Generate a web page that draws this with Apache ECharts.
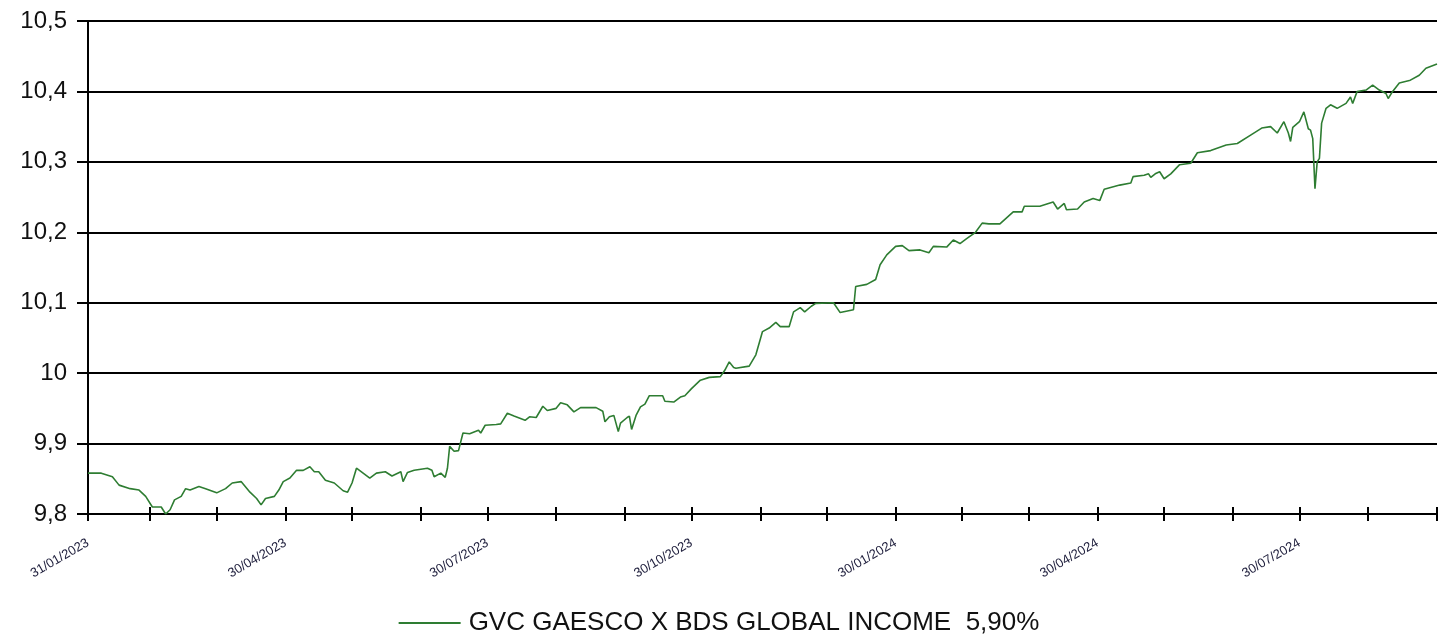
<!DOCTYPE html>
<html>
<head>
<meta charset="utf-8">
<title>GVC GAESCO X BDS GLOBAL INCOME</title>
<script src="https://cdn.jsdelivr.net/npm/echarts@6/dist/echarts.min.js"></script>
<style>
    html, body { margin: 0; padding: 0; background: #fff; }
    #main { width: 1438px; height: 638px; }
</style>
</head>
<body>
<div id="main"></div>
<script>
    "use strict";

    var seriesName = 'GVC GAESCO X BDS GLOBAL INCOME  5,90%';

    // month ends used for the x ticks (every third one gets a label)
    var monthTicks = ['2023-01-31', '2023-02-28', '2023-03-30', '2023-04-30', '2023-05-30',
        '2023-06-30', '2023-07-30', '2023-08-30', '2023-09-30', '2023-10-30', '2023-11-30',
        '2023-12-30', '2024-01-30', '2024-02-29', '2024-03-30', '2024-04-30', '2024-05-30',
        '2024-06-30', '2024-07-30', '2024-08-30', '2024-09-30'];
    var labelTicks = ['2023-01-31', '2023-04-30', '2023-07-30', '2023-10-30',
        '2024-01-30', '2024-04-30', '2024-07-30'];

    var dates = [
        '2023-01-31', '2023-02-06', '2023-02-11', '2023-02-14', '2023-02-19', '2023-02-23', '2023-02-26',
        '2023-03-01', '2023-03-05', '2023-03-07', '2023-03-09', '2023-03-11', '2023-03-14', '2023-03-16',
        '2023-03-18', '2023-03-22', '2023-03-25', '2023-03-30', '2023-04-03', '2023-04-06', '2023-04-10',
        '2023-04-14', '2023-04-17', '2023-04-19', '2023-04-21', '2023-04-25', '2023-04-27', '2023-04-29',
        '2023-05-02', '2023-05-05', '2023-05-08', '2023-05-11', '2023-05-13', '2023-05-15', '2023-05-18',
        '2023-05-22', '2023-05-26', '2023-05-28', '2023-05-30', '2023-06-01', '2023-06-04', '2023-06-07',
        '2023-06-10', '2023-06-14', '2023-06-17', '2023-06-21', '2023-06-22', '2023-06-24', '2023-06-27',
        '2023-07-03', '2023-07-05', '2023-07-06', '2023-07-09', '2023-07-11', '2023-07-12', '2023-07-13',
        '2023-07-15', '2023-07-17', '2023-07-19', '2023-07-22', '2023-07-26', '2023-07-27', '2023-07-29',
        '2023-08-03', '2023-08-05', '2023-08-08', '2023-08-11', '2023-08-16', '2023-08-18', '2023-08-21',
        '2023-08-24', '2023-08-26', '2023-08-30', '2023-09-01', '2023-09-04', '2023-09-07', '2023-09-10',
        '2023-09-13', '2023-09-17', '2023-09-20', '2023-09-21', '2023-09-23', '2023-09-25', '2023-09-27',
        '2023-09-28', '2023-10-01', '2023-10-02', '2023-10-03', '2023-10-05', '2023-10-07', '2023-10-09',
        '2023-10-11', '2023-10-14', '2023-10-17', '2023-10-18', '2023-10-22', '2023-10-25', '2023-10-27',
        '2023-10-30', '2023-11-03', '2023-11-07', '2023-11-12', '2023-11-14', '2023-11-16', '2023-11-18',
        '2023-11-19', '2023-11-25', '2023-11-28', '2023-12-01', '2023-12-04', '2023-12-07', '2023-12-09',
        '2023-12-13', '2023-12-15', '2023-12-18', '2023-12-20', '2023-12-23', '2023-12-25', '2024-01-02',
        '2024-01-05', '2024-01-11', '2024-01-12', '2024-01-17', '2024-01-21', '2024-01-23', '2024-01-26',
        '2024-01-30', '2024-02-02', '2024-02-05', '2024-02-10', '2024-02-14', '2024-02-16', '2024-02-22',
        '2024-02-25', '2024-02-28', '2024-03-02', '2024-03-06', '2024-03-09', '2024-03-12', '2024-03-17',
        '2024-03-23', '2024-03-27', '2024-03-28', '2024-04-04', '2024-04-10', '2024-04-12', '2024-04-15',
        '2024-04-16', '2024-04-21', '2024-04-24', '2024-04-28', '2024-05-01', '2024-05-03', '2024-05-10',
        '2024-05-15', '2024-05-16', '2024-05-21', '2024-05-23', '2024-05-24', '2024-05-26', '2024-05-28',
        '2024-05-30', '2024-06-02', '2024-06-06', '2024-06-11', '2024-06-14', '2024-06-20', '2024-06-27',
        '2024-07-02', '2024-07-08', '2024-07-13', '2024-07-17', '2024-07-20', '2024-07-23', '2024-07-25',
        '2024-07-26', '2024-07-27', '2024-07-30', '2024-08-01', '2024-08-03', '2024-08-04', '2024-08-05',
        '2024-08-06', '2024-08-07', '2024-08-08', '2024-08-09', '2024-08-11', '2024-08-13', '2024-08-16',
        '2024-08-20', '2024-08-22', '2024-08-23', '2024-08-25', '2024-08-29', '2024-09-01', '2024-09-04',
        '2024-09-07', '2024-09-08', '2024-09-10', '2024-09-13', '2024-09-18', '2024-09-22', '2024-09-25',
        '2024-09-30'
    ];

    var values = [
        9.858, 9.858, 9.853, 9.841, 9.836, 9.834, 9.825,
        9.810, 9.810, 9.800, 9.806, 9.820, 9.825, 9.836,
        9.834, 9.839, 9.836, 9.830, 9.836, 9.844, 9.846,
        9.831, 9.822, 9.813, 9.822, 9.825, 9.834, 9.846,
        9.851, 9.862, 9.862, 9.867, 9.860, 9.860, 9.848,
        9.844, 9.833, 9.831, 9.844, 9.865, 9.858, 9.851,
        9.858, 9.860, 9.854, 9.860, 9.846, 9.859, 9.862,
        9.865, 9.862, 9.853, 9.858, 9.852, 9.865, 9.896,
        9.889, 9.890, 9.915, 9.914, 9.919, 9.915, 9.926,
        9.927, 9.928, 9.943, 9.939, 9.933, 9.938, 9.937,
        9.953, 9.947, 9.950, 9.958, 9.955, 9.945, 9.951,
        9.951, 9.951, 9.946, 9.931, 9.938, 9.940, 9.917,
        9.929, 9.937, 9.939, 9.920, 9.940, 9.952, 9.956,
        9.968, 9.968, 9.968, 9.960, 9.959, 9.966, 9.968,
        9.978, 9.990, 9.994, 9.995, 10.004, 10.016, 10.008,
        10.007, 10.010, 10.026, 10.059, 10.064, 10.072, 10.066,
        10.066, 10.087, 10.093, 10.087, 10.095, 10.099, 10.100,
        10.086, 10.090, 10.123, 10.126, 10.133, 10.154, 10.168,
        10.180, 10.181, 10.174, 10.175, 10.171, 10.180, 10.179,
        10.189, 10.184, 10.191, 10.200, 10.213, 10.212, 10.212,
        10.229, 10.229, 10.237, 10.237, 10.243, 10.233, 10.241,
        10.232, 10.233, 10.243, 10.248, 10.245, 10.261, 10.267,
        10.270, 10.279, 10.281, 10.283, 10.278, 10.283, 10.286,
        10.276, 10.283, 10.296, 10.298, 10.313, 10.316, 10.324,
        10.326, 10.338, 10.348, 10.350, 10.341, 10.357, 10.341,
        10.329, 10.349, 10.357, 10.371, 10.347, 10.345, 10.333,
        10.262, 10.300, 10.305, 10.355, 10.376, 10.381, 10.376,
        10.383, 10.392, 10.383, 10.400, 10.402, 10.409, 10.402,
        10.397, 10.390, 10.400, 10.412, 10.416, 10.423, 10.433,
        10.439
    ];

    function toTime(s) {
        var p = s.split('-');
        return new Date(+p[0], +p[1] - 1, +p[2]).getTime();
    }

    function pad(n) {
        return n < 10 ? '0' + n : '' + n;
    }

    function fmtDate(t) {
        var d = new Date(t);
        return pad(d.getDate()) + '/' + pad(d.getMonth() + 1) + '/' + d.getFullYear();
    }

    var tickTimes = monthTicks.map(toTime);
    var labelTimes = labelTicks.map(toTime);
    var xMin = tickTimes[0];
    var xMax = tickTimes[tickTimes.length - 1];

    var gridRect = { left: 88, right: 1, top: 21, bottom: 124 };
    var lineColor = '#2e7d32';

    var chart = echarts.init(document.getElementById('main'), null, { renderer: 'canvas' });

    // x is a plain value axis holding timestamps, so custom month-end ticks can be used
    var option = {
        animation: false,
        backgroundColor: '#ffffff',
        textStyle: { fontFamily: '"Liberation Sans", Arial, sans-serif' },
        grid: [
            Object.assign({}, gridRect),
            Object.assign({}, gridRect)   // second grid only draws the inner half of the x ticks
        ],
        legend: {
            left: 'center',
            top: 605,
            icon: 'rect',
            itemWidth: 62,
            itemHeight: 2,
            itemGap: 10,
            itemStyle: { color: lineColor },
            textStyle: {
                fontSize: 26,
                color: '#111',
                padding: [0, 0, 0, 3],
                fontFamily: '"Liberation Sans", Arial, sans-serif'
            },
            data: [seriesName]
        },
        xAxis: [{
            type: 'value',
            gridIndex: 0,
            min: xMin,
            max: xMax,
            scale: true,
            axisLine: { lineStyle: { color: '#000', width: 2 } },
            axisTick: {
                show: true,
                length: 7,
                customValues: tickTimes,
                lineStyle: { color: '#000', width: 2 }
            },
            axisLabel: {
                customValues: labelTimes,
                rotate: 30,
                margin: 28,
                fontSize: 13,
                color: '#1c1c3a',
                formatter: function(v) { return fmtDate(v); }
            },
            splitLine: { show: false }
        }, {
            type: 'value',
            gridIndex: 1,
            min: xMin,
            max: xMax,
            scale: true,
            axisLine: { show: false },
            axisTick: {
                show: true,
                inside: true,
                length: 7,
                customValues: tickTimes,
                lineStyle: { color: '#000', width: 2 }
            },
            axisLabel: { show: false },
            splitLine: { show: false }
        }],
        yAxis: [{
            type: 'value',
            gridIndex: 0,
            min: 9.8,
            max: 10.5,
            interval: 0.1,
            axisLine: { show: true, lineStyle: { color: '#000', width: 2 } },
            axisTick: { show: true, length: 11, lineStyle: { color: '#000', width: 2 } },
            axisLabel: {
                margin: 21,
                fontSize: 24,
                color: '#111',
                formatter: function(v) {
                    return (Math.round(v * 10) / 10).toString().replace('.', ',');
                }
            },
            splitLine: { show: true, lineStyle: { color: '#000', width: 2 } }
        }, {
            type: 'value',
            gridIndex: 1,
            min: 9.8,
            max: 10.5,
            show: false
        }],
        series: [{
            name: seriesName,
            type: 'line',
            xAxisIndex: 0,
            yAxisIndex: 0,
            symbol: 'none',
            showSymbol: false,
            lineStyle: { color: lineColor, width: 1.6 },
            itemStyle: { color: lineColor },
            data: dates.map(function(d, i) { return [toTime(d), values[i]]; })
        }]
    };

    chart.setOption(option);
</script>
</body>
</html>
